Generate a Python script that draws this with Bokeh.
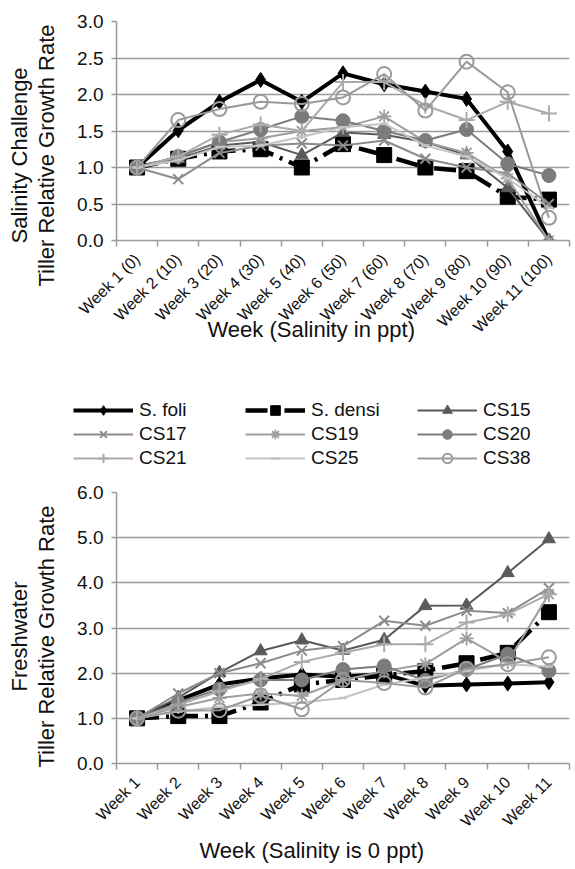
import math
from bokeh.plotting import figure
from bokeh.layouts import column, row
from bokeh.models import (Range1d, FixedTicker, PrintfTickFormatter, Title, Legend, LegendItem)
from bokeh.embed import file_html
from bokeh.resources import INLINE

# ---------------- data ----------------
weeks_salinity = ["Week 1 (0)", "Week 2 (10)", "Week 3 (20)", "Week 4 (30)", "Week 5 (40)",
                  "Week 6 (50)", "Week 7 (60)", "Week 8 (70)", "Week 9 (80)", "Week 10 (90)",
                  "Week 11 (100)"]
weeks_fresh = ["Week 1", "Week 2", "Week 3", "Week 4", "Week 5", "Week 6", "Week 7",
               "Week 8", "Week 9", "Week 10", "Week 11"]
series_names = ["S. foli", "S. densi", "CS15", "CS17", "CS19", "CS20", "CS21", "CS25", "CS38"]

# Salinity challenge (top chart)
sal_sfoli  = [1.00, 1.51, 1.90, 2.20, 1.90, 2.29, 2.14, 2.04, 1.94, 1.22, 0.00]
sal_sdensi = [1.00, 1.12, 1.22, 1.25, 1.00, 1.32, 1.17, 1.00, 0.95, 0.60, 0.56]
sal_cs15   = [1.00, 1.12, 1.30, 1.35, 1.17, 1.48, 1.45, 1.35, 1.17, 0.72, 0.00]
sal_cs17   = [1.00, 0.84, 1.20, 1.30, 1.33, 1.30, 1.37, 1.12, 1.00, 0.92, 0.50]
sal_cs19   = [1.00, 1.15, 1.35, 1.40, 1.50, 1.55, 1.70, 1.35, 1.20, 0.85, 0.00]
sal_cs20   = [1.00, 1.15, 1.35, 1.52, 1.70, 1.64, 1.50, 1.37, 1.52, 1.05, 0.89]
sal_cs21   = [1.00, 1.15, 1.45, 1.59, 1.50, 2.17, 2.17, 1.85, 1.65, 1.90, 1.74]
sal_cs25   = [1.00, 1.10, 1.28, 1.30, 1.42, 1.55, 1.60, 1.30, 1.15, 0.85, 0.45]
sal_cs38   = [1.00, 1.65, 1.80, 1.90, 1.87, 1.96, 2.28, 1.78, 2.45, 2.03, 0.31]

# Freshwater (bottom chart)
fw_sfoli  = [1.00, 1.40, 1.75, 1.88, 1.97, 1.92, 1.98, 1.72, 1.75, 1.77, 1.80]
fw_sdensi = [1.00, 1.05, 1.05, 1.35, 1.75, 1.85, 1.95, 2.05, 2.22, 2.45, 3.35]
fw_cs15   = [1.00, 1.46, 2.01, 2.49, 2.73, 2.50, 2.74, 3.49, 3.50, 4.22, 4.97]
fw_cs17   = [1.00, 1.55, 2.00, 2.22, 2.50, 2.60, 3.16, 3.05, 3.38, 3.33, 3.88]
fw_cs19   = [1.00, 1.25, 1.45, 1.55, 1.50, 1.85, 2.05, 2.20, 2.77, 2.25, 3.75]
fw_cs20   = [1.00, 1.35, 1.65, 1.85, 1.85, 2.08, 2.16, 1.84, 2.08, 2.42, 2.05]
fw_cs21   = [1.00, 1.30, 1.60, 1.87, 2.25, 2.45, 2.64, 2.64, 3.12, 3.30, 3.75]
fw_cs25   = [1.00, 1.15, 1.25, 1.30, 1.35, 1.45, 1.75, 1.90, 2.05, 2.20, 2.15]
fw_cs38   = [1.00, 1.17, 1.18, 1.50, 1.20, 1.85, 1.78, 1.68, 2.10, 2.20, 2.35]

sal_values = [sal_sfoli, sal_sdensi, sal_cs15, sal_cs17, sal_cs19, sal_cs20, sal_cs21, sal_cs25, sal_cs38]
fw_values = [fw_sfoli, fw_sdensi, fw_cs15, fw_cs17, fw_cs19, fw_cs20, fw_cs21, fw_cs25, fw_cs38]

# ---------------- styles ----------------
FONT = "Liberation Sans"
GRID = "#9a9a9a"
TXT = "#111111"
styles = [
    dict(color="#000000", lw=4,   dash="solid",     marker="diamond",  size=15, fill="#000000", mlw=1),
    dict(color="#000000", lw=4.5, dash="22 7 3 7",  marker="square",   size=15, fill="#000000", mlw=1),
    dict(color="#5a5a5a", lw=2,   dash="solid",     marker="triangle", size=13, fill="#5a5a5a", mlw=1),
    dict(color="#8c8c8c", lw=2,   dash="solid",     marker="x",        size=14, fill=None,      mlw=2),
    dict(color="#9e9e9e", lw=2,   dash="solid",     marker="asterisk", size=14, fill=None,      mlw=1.8),
    dict(color="#7c7c7c", lw=2,   dash="solid",     marker="circle",   size=14, fill="#7c7c7c", mlw=1),
    dict(color="#ababab", lw=2,   dash="solid",     marker="cross",    size=16, fill=None,      mlw=2),
    dict(color="#c4c4c4", lw=2,   dash="solid",     marker="dash",     size=8,  fill=None,      mlw=2.5),
    dict(color="#9a9a9a", lw=2,   dash="solid",     marker="circle",   size=14, fill=None,      mlw=2),
]


def draw_series(p, xs, values):
    items = []
    for name, ys, st in zip(series_names, values, styles):
        r1 = p.line(xs, ys, line_color=st["color"], line_width=st["lw"], line_dash=st["dash"])
        r2 = p.scatter(xs, ys, marker=st["marker"], size=st["size"], fill_color=st["fill"],
                       line_color=st["color"], line_width=st["mlw"])
        items.append(LegendItem(label=name, renderers=[r1, r2]))
    return items


def make_chart(height, ymax, ystep, cats, values, border_top, border_bottom):
    xs = list(range(1, len(cats) + 1))
    p = figure(width=575, height=height, x_range=Range1d(0.5, len(cats) + 0.5),
               y_range=Range1d(0, ymax), output_backend="svg", toolbar_location=None,
               min_border_left=116, min_border_right=6, min_border_top=border_top,
               min_border_bottom=border_bottom)
    p.outline_line_color = None
    p.xgrid.grid_line_color = None
    p.ygrid.grid_line_color = GRID
    p.ygrid.grid_line_width = 1.5
    nt = int(round(ymax / ystep))
    yt = [i * ystep for i in range(nt + 1)]
    p.ygrid.ticker = FixedTicker(ticks=yt)
    p.yaxis.ticker = FixedTicker(ticks=yt)
    p.yaxis.formatter = PrintfTickFormatter(format="%.1f")
    p.yaxis.axis_line_color = GRID
    p.yaxis.axis_line_width = 1.5
    p.yaxis.major_tick_line_color = GRID
    p.yaxis.major_tick_line_width = 1.5
    p.yaxis.major_tick_out = 5
    p.yaxis.major_tick_in = 0
    p.yaxis.minor_tick_line_color = None
    p.yaxis.major_label_text_font = FONT
    p.yaxis.major_label_text_font_size = "19px"
    p.yaxis.major_label_text_color = TXT
    p.yaxis.major_label_standoff = 8
    # invisible spacer label, keeps the axis titles clear of the tick labels
    p.yaxis.axis_label = " "
    p.yaxis.axis_label_text_font_size = "1px"
    p.yaxis.axis_label_standoff = 10

    p.xaxis.ticker = FixedTicker(ticks=xs, minor_ticks=[x + 0.5 for x in [0] + xs])
    p.xaxis.major_label_overrides = {x: c for x, c in zip(xs, cats)}
    p.xaxis.major_tick_line_color = None
    p.xaxis.major_tick_out = 0
    p.xaxis.major_tick_in = 0
    p.xaxis.minor_tick_line_color = GRID
    p.xaxis.minor_tick_line_width = 1.5
    p.xaxis.minor_tick_out = 6
    p.xaxis.minor_tick_in = 0
    p.xaxis.axis_line_color = GRID
    p.xaxis.axis_line_width = 1.5
    p.xaxis.major_label_orientation = math.pi / 4
    p.xaxis.major_label_text_font = FONT
    p.xaxis.major_label_text_font_size = "16px"
    p.xaxis.major_label_text_color = TXT
    p.xaxis.major_label_standoff = 10

    draw_series(p, xs, values)
    return p


def title(text, offset, size="22px", standoff=0, valign="middle"):
    return Title(text=text, align="left", offset=offset, standoff=standoff,
                 vertical_align=valign, text_font=FONT, text_font_size=size,
                 text_font_style="normal", text_color=TXT)


# ---------------- top chart ----------------
top = make_chart(370, 3.0, 0.5, weeks_salinity, sal_values, 21, 130)
top.add_layout(title("Tiller Relative Growth Rate", -46), "left")
top.add_layout(title("Salinity Challenge", -3), "left")
top.add_layout(title("Week (Salinity in ppt)", 91, standoff=-55, valign="top"), "below")

# ---------------- legend strip (its series sit outside the visible y range) ----------------
leg = figure(width=575, height=100, x_range=Range1d(0.5, len(weeks_salinity) + 0.5),
             y_range=Range1d(-20, -19), x_axis_type=None, y_axis_type=None,
             output_backend="svg", toolbar_location=None,
             min_border_left=0, min_border_right=0, min_border_top=0, min_border_bottom=0)
leg.outline_line_color = None
leg_items = draw_series(leg, list(range(1, len(weeks_salinity) + 1)), sal_values)
legend = Legend(items=leg_items, location=(73, 0), orientation="horizontal", ncols=3,
                glyph_width=60, glyph_height=24, label_height=24, label_width=106,
                label_standoff=6, spacing=0, padding=0, margin=0,
                label_text_font=FONT, label_text_font_size="19px", label_text_color=TXT,
                border_line_color=None, background_fill_alpha=0)
leg.add_layout(legend, "center")

# ---------------- bottom chart ----------------
bottom = make_chart(399, 6.0, 1.0, weeks_fresh, fw_values, 22, 106)
bottom.add_layout(title("Tiller Relative Growth Rate", -4), "left")
bottom.add_layout(title("Freshwater", 72), "left")
bottom.add_layout(title("Week (Salinity is 0 ppt)", 83, standoff=-2, valign="top"), "below")

layout = column(top, row(leg), bottom)
open("out.html", "w").write(file_html(layout, INLINE))
